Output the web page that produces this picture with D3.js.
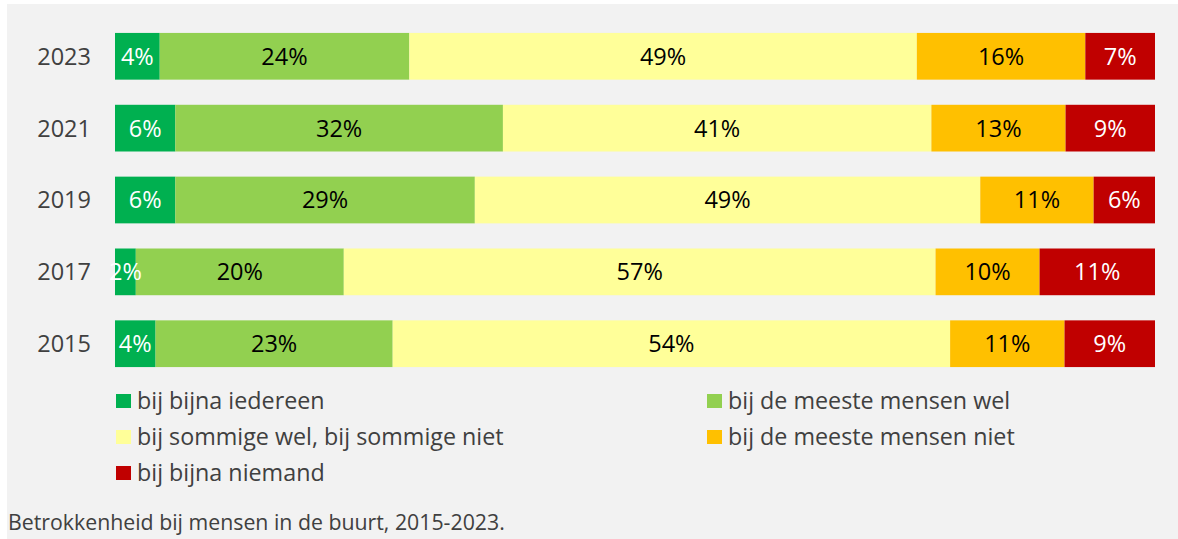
<!DOCTYPE html>
<html>
<head>
<meta charset="utf-8">
<script src="https://cdn.jsdelivr.net/npm/d3@7"></script>
<style>
  body { margin: 0; background: #fff; }
  svg { display: block; font-family: "Open Sans", sans-serif; }
</style>
</head>
<body>
<svg id="chart" width="1178" height="539"></svg>
<script>
const years = ["2023", "2021", "2019", "2017", "2015"];
const categories = [
  "bij bijna iedereen",
  "bij de meeste mensen wel",
  "bij sommige wel, bij sommige niet",
  "bij de meeste mensen niet",
  "bij bijna niemand"
];
const colors = ["#00B050", "#92D050", "#FFFF99", "#FFC000", "#C00000"];
const labelColors = ["#fff", "#000", "#000", "#000", "#fff"];

// percentages per year, same order as categories
const v2023 = [4.3, 24.0, 48.8, 16.2, 6.7];
const v2021 = [5.8, 31.5, 41.2, 12.9, 8.6];
const v2019 = [5.8, 28.8, 48.6, 10.9, 5.9];
const v2017 = [2.0, 20.0, 56.9, 10.0, 11.1];
const v2015 = [3.9, 22.8, 53.6, 11.0, 8.7];
const values = [v2023, v2021, v2019, v2017, v2015];

const caption = "Betrokkenheid bij mensen in de buurt, 2015-2023.";

const svg = d3.select("#chart");

svg.append("rect")
  .attr("x", 7).attr("y", 4)
  .attr("width", 1171).attr("height", 535)
  .attr("fill", "#f2f2f2");

const x = d3.scaleLinear().domain([0, 100]).range([115, 1155]);
const y = d3.scaleBand().domain(years).range([20, 380]).paddingInner(0.35).paddingOuter(0.18);

const rows = svg.append("g").selectAll("g")
  .data(years)
  .join("g");

rows.each(function(yr, i) {
  const vals = values[i];
  const total = d3.sum(vals);
  let acc = 0;
  const segs = vals.map((v, k) => {
    const s = { k, v, x0: acc / total * 100, x1: (acc + v) / total * 100 };
    acc += v;
    return s;
  });
  const g = d3.select(this);
  g.selectAll("rect")
    .data(segs)
    .join("rect")
    .attr("x", d => x(d.x0))
    .attr("y", y(yr))
    .attr("width", d => x(d.x1) - x(d.x0))
    .attr("height", y.bandwidth())
    .attr("fill", d => colors[d.k]);
  g.selectAll("text")
    .data(segs)
    .join("text")
    .attr("x", d => (x(d.x0) + x(d.x1)) / 2)
    .attr("y", y(yr) + y.bandwidth() / 2)
    .attr("dy", "0.36em")
    .attr("text-anchor", "middle")
    .attr("font-size", 23.5)
    .attr("fill", d => labelColors[d.k])
    .text(d => Math.round(d.v) + "%");
});

// year labels
svg.append("g").selectAll("text")
  .data(years)
  .join("text")
  .attr("x", 91)
  .attr("y", d => y(d) + y.bandwidth() / 2)
  .attr("dy", "0.36em")
  .attr("text-anchor", "end")
  .attr("font-size", 23.5)
  .attr("fill", "#404040")
  .text(d => d);

// legend
const legend = svg.append("g").selectAll("g")
  .data(categories)
  .join("g")
  .attr("transform", (d, i) => `translate(${i % 2 ? 707 : 116},${401 + Math.floor(i / 2) * 36})`);

legend.append("rect")
  .attr("x", 0).attr("y", -7)
  .attr("width", 15).attr("height", 14)
  .attr("fill", (d, i) => colors[i]);

legend.append("text")
  .attr("x", 21)
  .attr("dy", "0.36em")
  .attr("font-size", 23.3)
  .attr("fill", "#404040")
  .text(d => d);

svg.append("text")
  .attr("x", 8)
  .attr("y", 530)
  .attr("font-size", 21.3)
  .attr("fill", "#404040")
  .text(caption);
</script>
</body>
</html>
